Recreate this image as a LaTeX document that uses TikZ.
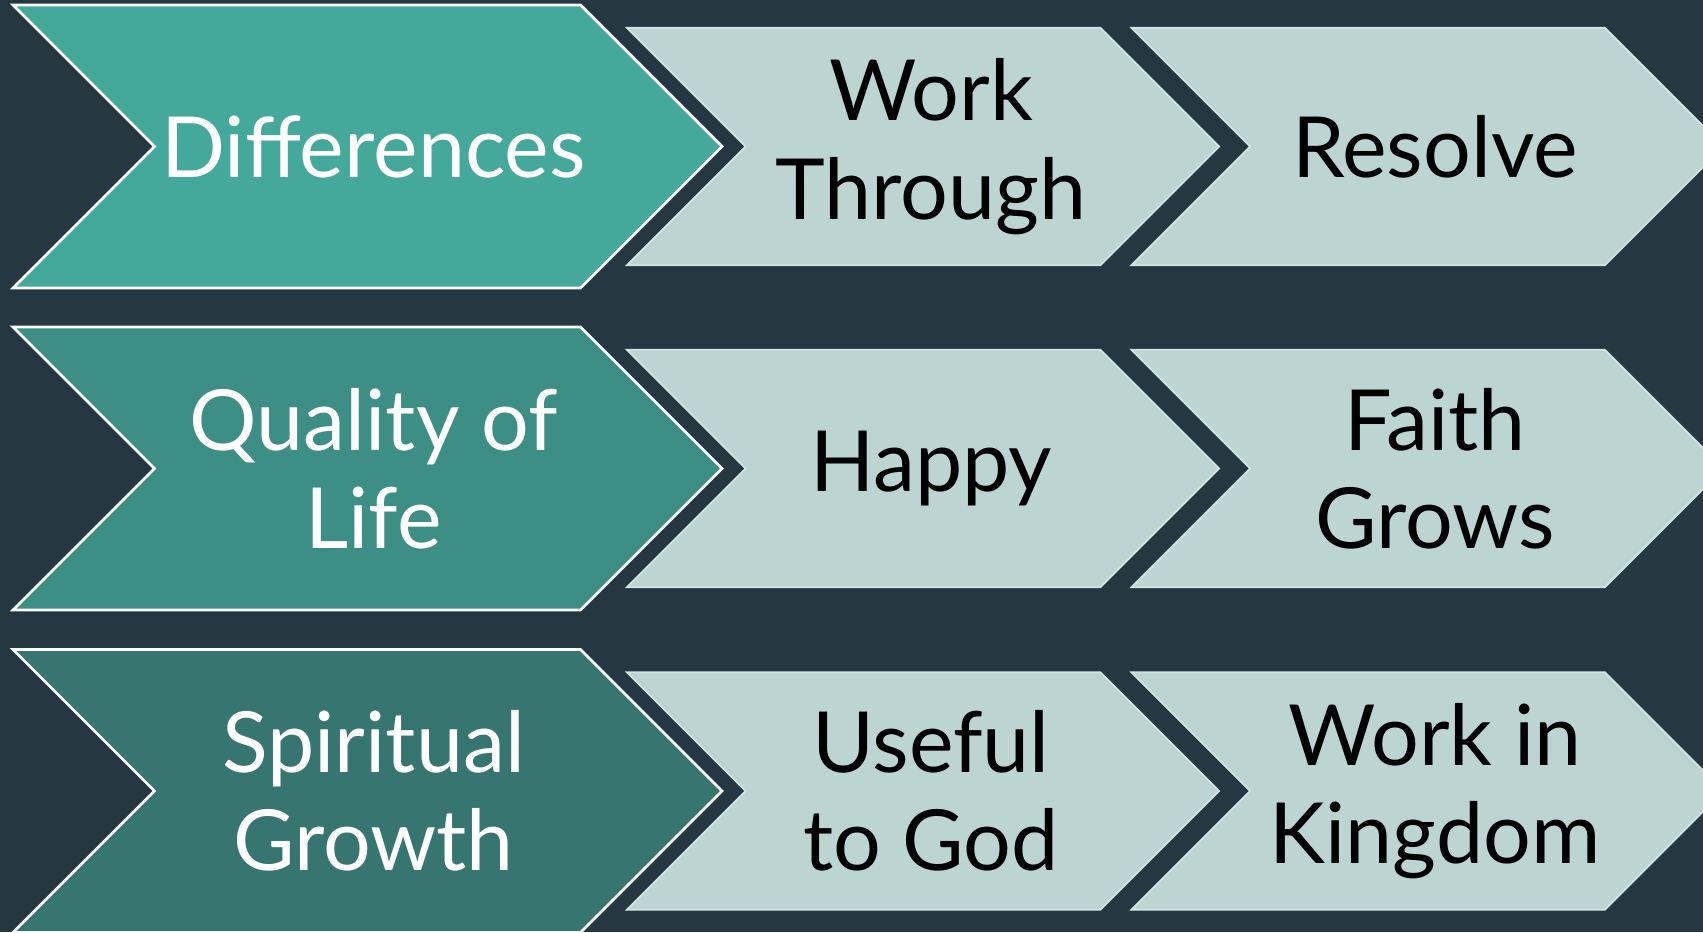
\documentclass[tikz,border=0pt]{standalone}
\usepackage{fontspec}
\setmainfont{Lato}
\usepackage{xcolor}

\definecolor{slatebg}{HTML}{253842}
\definecolor{tealone}{HTML}{44A89A}
\definecolor{tealtwo}{HTML}{3D8E84}
\definecolor{tealthree}{HTML}{367570}
\definecolor{paleteal}{HTML}{BDD5D2}
\definecolor{paleedge}{HTML}{D3E5E2}

% chevron outline: left x, mid y, body width, half height, style
\newcommand{\chevron}[5]{%
  \draw[#5] (#1,#2+#4) -- ++(#3,0) -- ++(#4,-#4) -- ++(-#4,-#4)
    -- ++(-#3,0) -- ++(#4,#4) -- cycle;}

\begin{document}
\begin{tikzpicture}[
    bigchev/.style={
        draw=white,
        line width=0.8pt,
        line join=miter
    },
    smallchev/.style={
        draw=paleedge,
        line width=0.5pt,
        fill=paleteal
    },
    biglabel/.style={
        text=white,
        align=center,
        font=\fontsize{24}{28}\selectfont
    },
    smalllabel/.style={
        text=black,
        align=center,
        font=\fontsize{24}{28}\selectfont
    }
]

    % Background
    \useasboundingbox (0,0) rectangle (17.03,9.32);
    \clip (0,0) rectangle (17.03,9.32);
    \fill[slatebg] (0,0) rectangle (17.03,9.32);

    % 1. Differences row (Top)
    \chevron{0.13}{7.855}{5.675}{1.415}{bigchev, fill=tealone}
    \chevron{6.27}{7.855}{4.735}{1.187}{smallchev}
    \chevron{11.315}{7.855}{4.735}{1.187}{smallchev}
    \node (diff) [biglabel] at (3.735,7.855) {Differences};
    \node (workthru) [smalllabel] at (9.31,7.855) {Work\\Through};
    \node (resolve) [smalllabel] at (14.35,7.855) {Resolve};

    % 2. Quality of Life row (Middle)
    \chevron{0.13}{4.635}{5.675}{1.415}{bigchev, fill=tealtwo}
    \chevron{6.27}{4.635}{4.735}{1.187}{smallchev}
    \chevron{11.315}{4.635}{4.735}{1.187}{smallchev}
    \node (quality) [biglabel] at (3.735,4.635) {Quality of\\Life};
    \node (happy) [smalllabel] at (9.31,4.635) {Happy};
    \node (faith) [smalllabel] at (14.35,4.635) {Faith\\Grows};

    % 3. Spiritual Growth row (Bottom)
    \chevron{0.13}{1.41}{5.675}{1.415}{bigchev, fill=tealthree}
    \chevron{6.27}{1.41}{4.735}{1.187}{smallchev}
    \chevron{11.315}{1.41}{4.735}{1.187}{smallchev}
    \node (spiritual) [biglabel] at (3.735,1.41) {Spiritual\\Growth};
    \node (useful) [smalllabel] at (9.31,1.41) {Useful\\to God};
    \node (kingdom) [smalllabel] at (14.35,1.41) {Work in\\Kingdom};

\end{tikzpicture}
\end{document}
